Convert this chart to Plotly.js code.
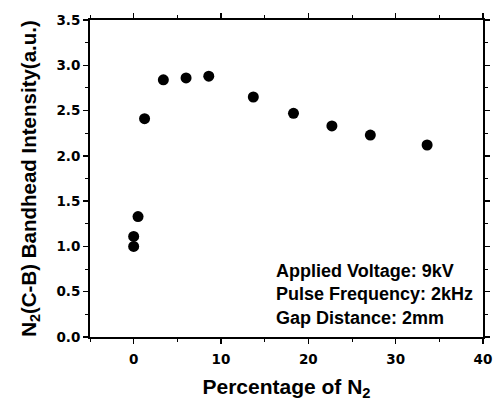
<!DOCTYPE html>
<html><head><meta charset="utf-8">
<script src="https://cdn.plot.ly/plotly-3.0.1.min.js"></script>
<style>html,body{margin:0;padding:0;background:#fff}#c{width:493px;height:404px}</style>
</head><body><div id="c"></div>
<script>
const percentN2 = [0, 0, 0.5, 1.25, 3.4, 6.0, 8.6, 13.7, 18.3, 22.7, 27.1, 33.6];
const intensity = [1.00, 1.11, 1.33, 2.41, 2.84, 2.86, 2.88, 2.65, 2.47, 2.33, 2.23, 2.12];
const xTicks = [0, 10, 20, 30, 40];
const yTicks = [0, 0.5, 1.0, 1.5, 2.0, 2.5, 3.0, 3.5];
const yTickText = ['0.0','0.5','1.0','1.5','2.0','2.5','3.0','3.5'];
const noteLines = ['Applied Voltage: 9kV', 'Pulse Frequency: 2kHz', 'Gap Distance: 2mm'];

const F = 'Liberation Sans, Arial, sans-serif';
const FT = 'DejaVu Sans, sans-serif';
const data = [{
  x: percentN2, y: intensity, type: 'scatter', mode: 'markers',
  marker: {color: '#000', size: 11}, showlegend: false
}];
const axisCommon = {
  showline: true, linecolor: '#000', linewidth: 2, mirror: 'ticks',
  ticks: 'outside', ticklen: 5, tickwidth: 1.5, tickcolor: '#000',
  showgrid: false, zeroline: false,
  tickfont: {family: FT, size: 13.5, color: '#000', weight: 700}
};
const layout = {
  width: 493, height: 404,
  margin: {l: 89.5, r: 10, t: 19.5, b: 67.3},
  paper_bgcolor: '#fff', plot_bgcolor: '#fff',
  xaxis: Object.assign({}, axisCommon, {
    range: [-5, 40], tickvals: xTicks, ticktext: xTicks.map(String),
    ticklabelstandoff: 4,
    minor: {ticks: 'outside', dtick: 5, tick0: 0, ticklen: 3, tickcolor: '#000', tickwidth: 1},
    title: {text: 'Percentage of N<sub>2</sub>', font: {family: F, size: 21, color: '#000', weight: 700}, standoff: 13}
  }),
  yaxis: Object.assign({}, axisCommon, {
    range: [0, 3.5], tickvals: yTicks, ticktext: yTickText,
    minor: {ticks: 'outside', dtick: 0.25, tick0: 0, ticklen: 3, tickcolor: '#000', tickwidth: 1},
    title: {text: 'N<sub>2</sub>(C-B) Bandhead Intensity(a.u.)', font: {family: F, size: 20.5, color: '#000', weight: 700}, standoff: 14}
  }),
  annotations: [{
    xref: 'paper', yref: 'paper', x: 0.4676, y: 0.1346, xanchor: 'left', yanchor: 'middle',
    align: 'left', showarrow: false,
    text: noteLines.join('<br>'),
    font: {family: F, size: 18, color: '#000', weight: 700}
  }]
};
Plotly.newPlot('c', data, layout, {displayModeBar: false, staticPlot: true});
</script></body></html>
